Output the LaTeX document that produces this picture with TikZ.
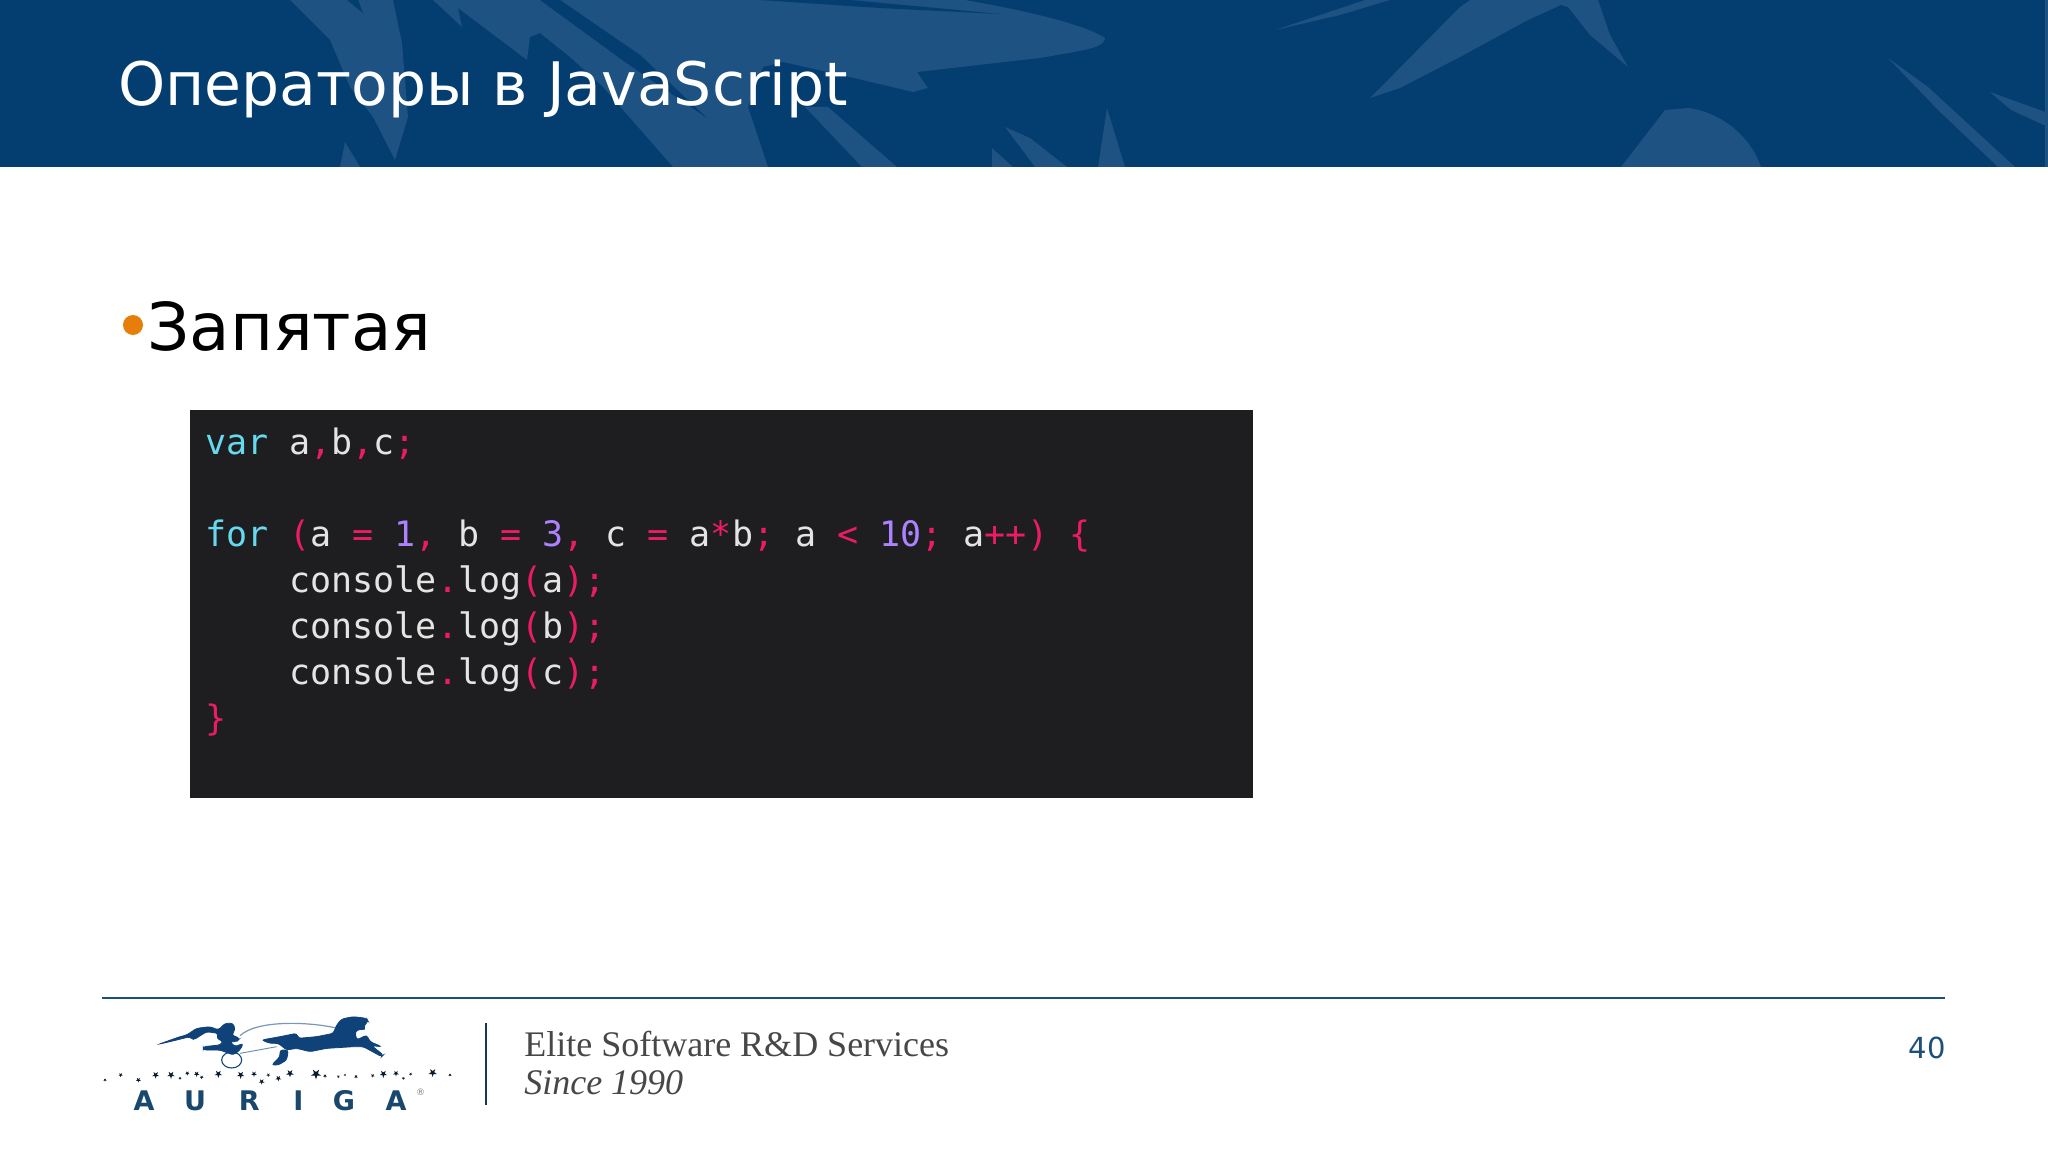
\documentclass[tikz,border=0pt]{standalone}
\usepackage{fontspec}
\setmainfont{DejaVu Sans}
\newfontfamily\codefont{DejaVu Sans Mono}
\newfontfamily\footfont{Liberation Serif}
\definecolor{hdrbase}{HTML}{043D70}
\definecolor{hdrleaf}{HTML}{1D5282}
\definecolor{codebg}{HTML}{1E1E20}
\definecolor{codetxt}{HTML}{E4E4E4}
\definecolor{codekw}{HTML}{66D9EF}
\definecolor{codeop}{HTML}{EC1C62}
\definecolor{codenum}{HTML}{AE81FF}
\definecolor{logoblue}{HTML}{0E4278}
\definecolor{ruleblue}{HTML}{1D5078}
\definecolor{footgrey}{HTML}{474747}
\definecolor{bulletor}{HTML}{E57F0A}
\newcommand{\kw}[1]{\textcolor{codekw}{#1}}
\newcommand{\op}[1]{\textcolor{codeop}{#1}}
\newcommand{\nm}[1]{\textcolor{codenum}{#1}}
\newcommand{\sizepx}[1]{\fontsize{\dimexpr#1pt*3/4\relax}{\dimexpr#1pt*9/8\relax}\selectfont}
\newcommand{\lstar}[3]{\fill[logoblue!40!black,shift={(#1,#2)}] (90:#3) -- (234:#3) -- (18:#3) -- (162:#3) -- (306:#3) -- cycle;}
\tikzset{
  leaf/.style={fill=hdrleaf,draw=none},
  gap/.style={fill=hdrbase,draw=none},
  codeline/.style={anchor=base west,inner sep=0pt,text=codetxt,font=\codefont\sizepx{35}},
  brand/.style={anchor=base,inner sep=0pt,text=ruleblue!90!black,font=\bfseries\sizepx{27}},
  foot/.style={anchor=base west,inner sep=0pt,text=footgrey},
  horse/.style={fill=logoblue,draw=logoblue,line width=0.6pt,rounded corners=2pt}
}
\begin{document}
\begin{tikzpicture}[x=0.75pt,y=-0.75pt]
\useasboundingbox (0,0) rectangle (2048,1152);
\fill[white] (0,0) rectangle (2048,1152);
% header band
\fill[hdrbase] (0,0) rectangle (2048,167);
\fill[leaf] (290,0) -- (330,40) -- (350,87) -- (373,117) -- (395,160) -- (408,117) -- (402,43) -- (393,0) -- cycle;
\fill[gap] (347,0) -- (363,13) -- (358,0) -- cycle;
\fill[leaf] (345,142) -- (360,167) -- (340,167) -- cycle;
\fill[leaf] (433,0) -- (462,27) -- (458,8) -- (527,60) -- (530,37) -- (540,33) -- (570,57) -- (603,87) -- (673,167) -- (768,167) -- (748,107) -- (763,67) -- (783,62) -- (850,77) -- (913,92) -- (928,88) -- (917,72) -- (1040,58) .. controls (1085,50) and (1105,48) .. (1105,38) .. controls (1090,28) and (1050,15) .. (965,0) -- cycle;
\fill[gap] (540,0) -- (560,0) -- (640,55) -- (707,118) -- (625,62) -- cycle;
\fill[gap] (760,0) -- (850,0) -- (1000,14) -- (880,8) -- cycle;
\fill[leaf] (805,107) -- (828,107) -- (897,167) -- (862,167) -- cycle;
\fill[leaf] (1005,127) -- (1030,138) -- (1067,167) -- (1035,167) -- cycle;
\fill[leaf] (992,148) -- (1013,167) -- (992,167) -- cycle;
\fill[leaf] (1107,108) -- (1125,167) -- (1098,167) -- cycle;
\fill[leaf] (1275,30) -- (1335,10) -- (1365,0) -- (1390,0) -- (1340,15) -- cycle;
\fill[leaf] (1370,98) -- (1460,7) -- (1470,0) -- (1598,0) -- (1610,35) -- (1628,67) -- (1590,35) -- (1568,7) -- (1561,5) -- (1528,20) -- (1460,57) -- (1400,88) -- cycle;
\fill[leaf] (1621,167) -- (1665,110) -- (1688,108) .. controls (1720,112) and (1750,135) .. (1761,167) -- cycle;
\fill[leaf] (1888,58) -- (1928,87) -- (2015,167) -- (1998,167) -- (1938,110) -- cycle;
\fill[leaf] (1990,92) -- (2048,113) -- (2048,127) -- (2011,110) -- cycle;
\fill[hdrleaf] (2045,0) rectangle (2048,167);
\node[anchor=base west,inner sep=0pt,text=white,font=\sizepx{60}] (title) at (118,106) {Операторы в JavaScript};
% bullet
\fill[bulletor] (133,325) circle (10);
\node[anchor=base west,inner sep=0pt,text=black,font=\sizepx{66}] (head) at (147,350) {Запятая};
% code panel
\fill[codebg] (189.5,410) rectangle (1252.5,798);
\node[codeline] (c1) at (205,454) {\kw{var} a\op{,}b\op{,}c\op{;}};
\node[codeline] (c3) at (205,546) {\kw{for} \op{(}a \op{=} \nm{1}\op{,} b \op{=} \nm{3}\op{,} c \op{=} a\op{*}b\op{;} a \op{<} \nm{10}\op{;} a\op{++)} \op{\{}};
\node[codeline] (c4) at (205,592) {\ \ \ \ console\op{.}log\op{(}a\op{);}};
\node[codeline] (c5) at (205,638) {\ \ \ \ console\op{.}log\op{(}b\op{);}};
\node[codeline] (c6) at (205,684) {\ \ \ \ console\op{.}log\op{(}c\op{);}};
\node[codeline] (c7) at (205,730) {\op{\}}};
% footer
\draw[ruleblue,line width=1.5pt] (102,998) -- (1945,998);
\draw[ruleblue!70!black,line width=2pt] (486,1023) -- (486,1105);
\node[foot,font=\footfont\sizepx{36}] (elite) at (524,1056) {Elite Software R\&D Services};
\node[foot,font=\footfont\itshape\sizepx{36}] (since) at (524,1094) {Since 1990};
\node[anchor=base east,inner sep=0pt,text=ruleblue,font=\sizepx{29}] (page) at (1946,1058) {40};
% logo: horse and rider
\begin{scope}[shift={(140,1005)},x=0.25pt,y=-0.25pt]
\path[horse] (365,105) -- (420,95) -- (470,85) -- (475,100) -- (530,95) -- (580,85) -- (590,60) -- (605,42) -- (640,35) -- (680,40) -- (685,50) -- (672,60) -- (675,75) -- (660,72) -- (645,80) -- (650,105) -- (680,90) -- (690,110) -- (725,125) -- (695,122) -- (730,150) -- (725,155) -- (670,125) -- (640,125) -- (560,130) -- (510,140) -- (470,130) -- (440,135) -- (415,115) -- (390,115) -- cycle;
\path[horse] (420,135) -- (445,135) -- (440,165) -- (415,180) -- (395,180) -- (420,155) -- cycle;
\path[horse] (55,118) -- (120,95) -- (140,90) -- (170,70) -- (210,65) -- (235,75) -- (255,55) -- (280,55) -- (285,75) -- (275,90) -- (300,100) -- (290,110) -- (270,110) -- (285,125) -- (310,115) -- (300,135) -- (280,150) -- (240,135) -- (190,135) -- (190,125) -- (240,120) -- (250,110) -- (230,100) -- (235,85) -- (200,80) -- (160,105) -- (150,95) -- (110,105) -- cycle;
\draw[logoblue,line width=0.8pt] (275,165) ellipse (30 and 24);
\draw[logoblue!60,line width=0.7pt] (300,145) -- (410,125);
\draw[logoblue!55,line width=0.9pt] (300,92) .. controls (350,45) and (500,50) .. (585,68);
\end{scope}
% logo: stars
\begin{scope}[shift={(90,1060)},x=0.25pt,y=-0.25pt]
\foreach \sx/\sy/\sr in {45/60/5,92/45/7,145/60/8,197/45/11,243/45/12,270/55/5,292/40/7,320/42/9,335/52/6,385/42/12,452/45/12,492/42/9,515/65/9,535/45/6,565/55/9,600/40/12,678/42/16,705/48/6,745/50/5,765/45/4,798/50/6,848/47/6,880/42/12,918/40/9,940/55/5,962/42/5,1028/38/13,1080/45/5}{\lstar{\sx}{\sy}{\sr}}
\node[brand] (la) at (162,150) {A};
\node[brand] (lu) at (315,150) {U};
\node[brand] (lr) at (478,150) {R};
\node[brand] (li) at (625,150) {I};
\node[brand] (lg) at (762,150) {G};
\node[brand] (lb) at (918,150) {A};
\node[anchor=center,inner sep=0pt,text=gray,font=\sizepx{9}] (reg) at (992,97) {®};
\end{scope}
\end{tikzpicture}
\end{document}
